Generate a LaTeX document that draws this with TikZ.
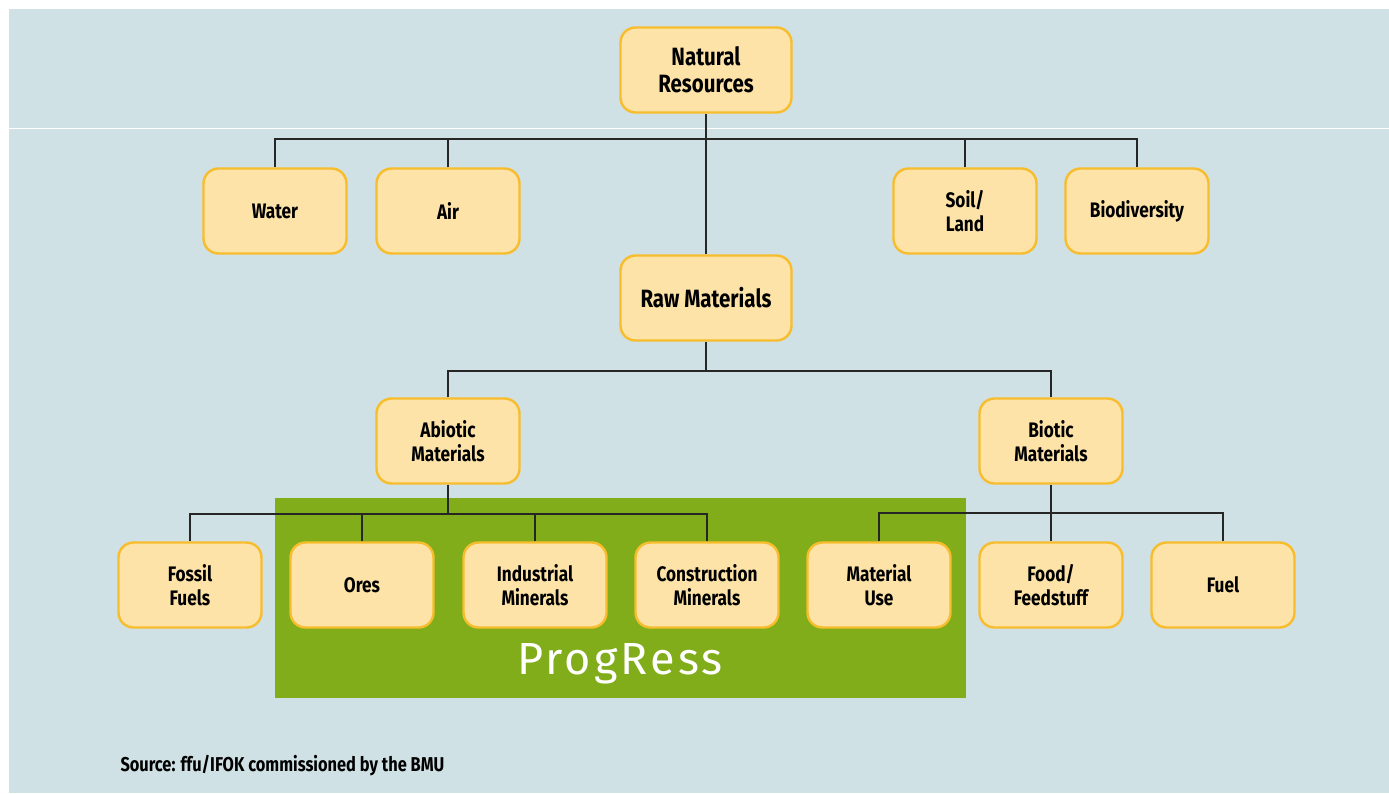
\documentclass[tikz,border=0pt]{standalone}
\usepackage{fontspec}
\setmainfont{Fira Sans}[FakeStretch=0.82]
\newfontfamily\progfont{Fira Sans}[LetterSpace=7]
\definecolor{bgblue}{HTML}{CFE1E4}
\definecolor{boxfill}{HTML}{FDE3A8}
\definecolor{boxline}{HTML}{F8BD2C}
\definecolor{progreen}{HTML}{80AD19}

\begin{document}
\begin{tikzpicture}[x=1pt,y=-1pt,
    res/.style={draw=boxline, fill=boxfill, line width=2.4pt, rounded corners=15pt,
        minimum width=143pt, minimum height=85pt, align=center, inner sep=2pt,
        font=\fontsize{21}{23.5}\selectfont\bfseries},
    bigres/.style={res, minimum width=171pt, font=\fontsize{25}{27}\selectfont\bfseries},
    link/.style={line width=1.8pt, draw=black!85}]
    \useasboundingbox (0,0) rectangle (1389,793);
    \fill[bgblue] (9,9) rectangle (1389,793);
    \draw[white, line width=1.5pt] (9,128.5) -- (1389,128.5);
    \fill[progreen] (275,498) rectangle (966,698);
    \node[text=white, font=\fontsize{45}{45}\progfont\mdseries] (prog) at (620,664) {ProgRess};

    % top level
    \node[bigres] (natres) at (706,70) {Natural\\Resources};
    \node[res] (water) at (275,211) {Water};
    \node[res] (air) at (448,211) {Air};
    \node[res] (soil) at (965,211) {Soil/\\Land};
    \node[res] (biodiv) at (1137,211) {Biodiversity};
    \node[bigres] (raw) at (706,298) {Raw Materials};

    % materials
    \node[res] (abiotic) at (448,441) {Abiotic\\Materials};
    \node[res] (biotic) at (1051,441) {Biotic\\Materials};

    % bottom row
    \node[res] (fossil) at (190,585) {Fossil\\Fuels};
    \node[res] (ores) at (362,585) {Ores};
    \node[res] (indmin) at (535,585) {Industrial\\Minerals};
    \node[res] (conmin) at (707,585) {Construction\\Minerals};
    \node[res] (matuse) at (879,585) {Material\\Use};
    \node[res] (food) at (1051,585) {Food/\\Feedstuff};
    \node[res] (fuel) at (1223,585) {Fuel};

    % connectors
    \draw[link] (natres.south) -- (raw.north);
    \draw[link] (water.north) -- ++(0,-28) -| (biodiv.north);
    \draw[link] (air.north) -- ++(0,-28);
    \draw[link] (soil.north) -- ++(0,-28);
    \draw[link] (raw.south) -- ++(0,29) coordinate (rawbar);
    \draw[link] (abiotic.north) |- (rawbar) -| (biotic.north);
    \draw[link] (abiotic.south) -- ++(0,29) coordinate (abbar);
    \draw[link] (fossil.north) |- (abbar) -| (conmin.north);
    \draw[link] (ores.north) -- ++(0,-28);
    \draw[link] (indmin.north) -- ++(0,-28);
    \draw[link] (biotic.south) -- (food.north);
    \draw[link] (matuse.north) -- ++(0,-28) -| (fuel.north);

    \node[anchor=base west, font=\fontsize{20}{22}\selectfont\bfseries] (source) at (117,771)
        {Source: ffu/IFOK commissioned by the BMU};
\end{tikzpicture}
\end{document}
